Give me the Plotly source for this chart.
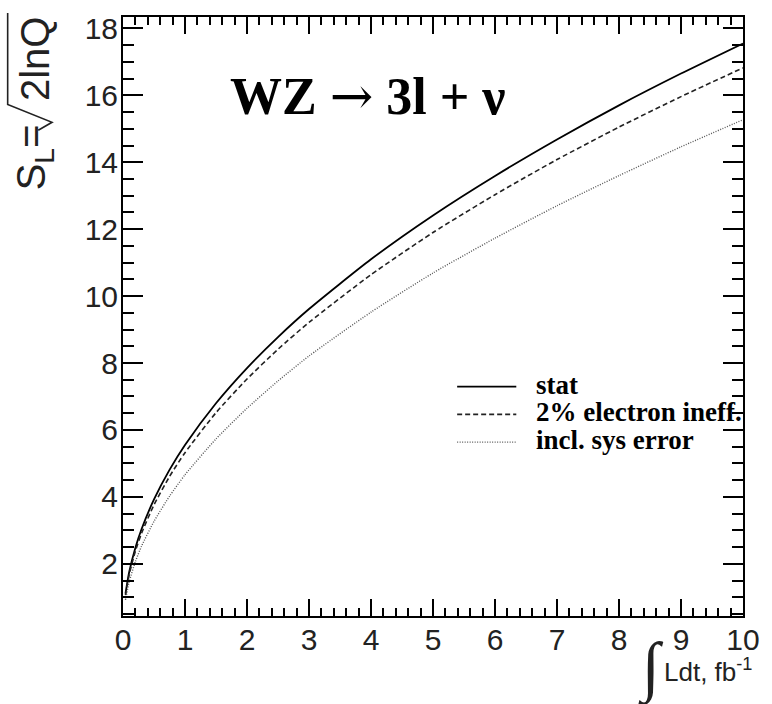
import plotly.graph_objects as go

# Integrated luminosity, fb^-1
lumi = [0.04, 0.1, 0.2, 0.3, 0.5, 0.75, 1.0, 1.5, 2.0, 2.5, 3.0, 4.0, 5.0, 6.0, 7.0, 8.0, 9.0, 10.0]

# Expected significance S_L for each scenario
sig_stat = [1.11, 1.755, 2.482, 3.040, 3.924, 4.806, 5.55, 6.797, 7.849, 8.775, 9.613,
            11.10, 12.41, 13.59, 14.68, 15.70, 16.65, 17.55]
sig_eineff = [1.064, 1.682, 2.379, 2.914, 3.762, 4.607, 5.32, 6.515, 7.523, 8.411, 9.215,
              10.64, 11.90, 13.03, 14.08, 15.05, 15.96, 16.82]
sig_sys = [0.924, 1.461, 2.066, 2.530, 3.267, 4.018, 4.66, 5.732, 6.647, 7.463, 8.210,
           9.52, 10.69, 11.73, 12.70, 13.60, 14.46, 15.27]

legend_labels = ["stat", "2% electron ineff.", "incl. sys error"]

W, H = 772, 704
L_M, R_M, T_M, B_M = 123, 20, 13, 88
PW, PH = W - L_M - R_M, H - T_M - B_M


def px(x):
    return (x - L_M) / PW


def py(y):
    return (H - B_M - y) / PH


styles = [
    dict(color="black", width=1.8, dash="solid"),
    dict(color="#222", width=1.6, dash="5px,3px"),
    dict(color="#555", width=1.4, dash="1px,1.5px"),
]

fig = go.Figure()
for vals, name, st in zip([sig_stat, sig_eineff, sig_sys], legend_labels, styles):
    fig.add_trace(go.Scatter(x=lumi, y=vals, mode="lines", name=name,
                             line=dict(shape="spline", smoothing=0.6, **st),
                             showlegend=False))

SANS = "Liberation Sans, Arial, sans-serif"
SERIF = "Liberation Serif, Times New Roman, serif"
tickfont = dict(family=SANS, size=30, color="#222")

fig.update_layout(
    width=W, height=H,
    margin=dict(l=L_M, r=R_M, t=T_M, b=B_M),
    paper_bgcolor="white", plot_bgcolor="white",
    xaxis=dict(range=[0, 10], dtick=1, ticks="inside", ticklen=17, tickwidth=1.5,
               tickcolor="black", showline=True, linecolor="black", linewidth=2,
               mirror="ticks", showgrid=False, zeroline=False, tickfont=tickfont,
               ticklabelstandoff=-4,
               minor=dict(dtick=0.2, ticks="inside", ticklen=8, tickwidth=1.5,
                          tickcolor="black", showgrid=False)),
    yaxis=dict(range=[0.44, 18.34], tick0=0, dtick=2, ticks="inside", ticklen=20,
               tickwidth=1.5, tickcolor="black", showline=True, linecolor="black",
               linewidth=2, mirror="ticks", showgrid=False, zeroline=False,
               tickfont=tickfont, ticklabelstandoff=-3,
               minor=dict(dtick=0.5, ticks="inside", ticklen=11, tickwidth=1.5,
                          tickcolor="black", showgrid=False)),
)

annotations = []
shapes = []

# Process label
annotations.append(dict(
    text="<b>WZ</b> <span style='font-family:DejaVu Serif'>→</span> <b>3l + ν</b>",
    x=px(372), y=py(93), xref="paper", yref="paper", showarrow=False,
    xanchor="center", yanchor="middle",
    font=dict(family=SERIF, size=52, color="black")))

# Legend drawn inside the frame
leg_y = [385, 413, 441]
for yy, name, st in zip(leg_y, legend_labels, styles):
    shapes.append(dict(type="line", xref="paper", yref="paper",
                       x0=px(462), x1=px(522), y0=py(yy), y1=py(yy),
                       line=dict(color=st["color"], width=st["width"], dash=st["dash"])))
    annotations.append(dict(text="<b>" + name + "</b>", x=px(540), y=py(yy - 2),
                            xref="paper", yref="paper", showarrow=False,
                            xanchor="left", yanchor="middle",
                            font=dict(family=SERIF, size=27, color="black")))

# Y axis title: S_L = sqrt(2 ln Q), radical drawn as a path
ytitle_font = dict(family=SANS, size=40, color="#222")
annotations.append(dict(text="S<sub>L</sub>=", x=px(33), y=py(154), xref="paper",
                        yref="paper", showarrow=False, textangle=-90,
                        xanchor="center", yanchor="middle", font=ytitle_font))
annotations.append(dict(text="2lnQ", x=px(33), y=py(55), xref="paper",
                        yref="paper", showarrow=False, textangle=-90,
                        xanchor="center", yanchor="middle", font=ytitle_font))
rad = [(37, 127), (51, 119), (6, 101), (6, 9)]
path = "M " + " L ".join(f"{px(a):.5f},{py(b):.5f}" for a, b in rad)
shapes.append(dict(type="path", xref="paper", yref="paper", path=path,
                   line=dict(color="#222", width=1.6)))

# X axis title
annotations.append(dict(text="∫", x=px(659), y=py(668), xref="paper", yref="paper",
                        showarrow=False, xanchor="center", yanchor="middle",
                        font=dict(family=SERIF, size=66, color="#222")))
annotations.append(dict(text="Ldt, fb<sup>-1</sup>", x=px(670), y=py(671), xref="paper",
                        yref="paper", showarrow=False, xanchor="left", yanchor="middle",
                        font=dict(family=SANS, size=26, color="#222")))

fig.update_layout(annotations=annotations, shapes=shapes)
fig.write_html("out.html")
